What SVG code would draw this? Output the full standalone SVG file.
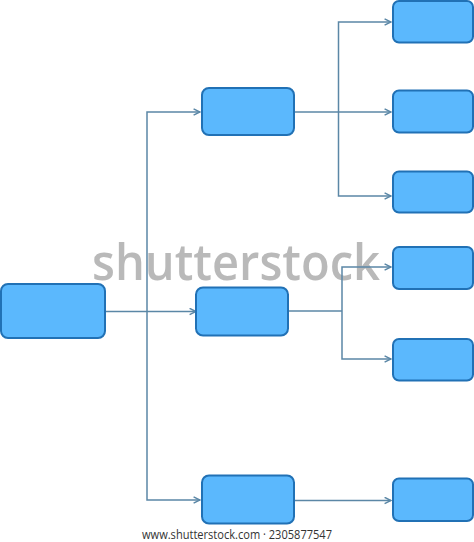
<svg xmlns="http://www.w3.org/2000/svg" width="474" height="542" viewBox="0 0 474 542">
<style>
.node rect{fill:#5bb8fd;stroke:#2171b5;stroke-width:2}
.conn path{fill:none;stroke:#5b87a6;stroke-width:1.5}
.wm{font-family:"Open Sans","Liberation Sans",sans-serif;font-weight:600;fill:#b2b2b2;opacity:0.9}
.foot{font-family:"Open Sans","Liberation Sans",sans-serif;font-size:12px;fill:#333}
</style>
<defs>
<marker id="ah" viewBox="0 0 10 10" refX="9" refY="5" markerWidth="8" markerHeight="8" markerUnits="userSpaceOnUse" orient="auto">
<path d="M1,1 L9,5 L1,9" fill="none" stroke="#5b87a6" stroke-width="1.8"/>
</marker>
</defs>
<rect width="474" height="542" fill="#ffffff"/>
<text class="wm" x="92" y="280" font-size="50" textLength="288" lengthAdjust="spacingAndGlyphs">shutterstock</text>
<g class="conn">
<path d="M105,311.5 H196" marker-end="url(#ah)"/>
<path d="M147,311.5 V112 H200" marker-end="url(#ah)"/>
<path d="M147,311.5 V500 H200" marker-end="url(#ah)"/>
<path d="M294,112 H391" marker-end="url(#ah)"/>
<path d="M338.5,112 V22 H391" marker-end="url(#ah)"/>
<path d="M338.5,112 V196 H391" marker-end="url(#ah)"/>
<path d="M288,311 H342"/>
<path d="M342,311 V267 H391" marker-end="url(#ah)"/>
<path d="M342,311 V359 H391" marker-end="url(#ah)"/>
<path d="M294,500.5 H391" marker-end="url(#ah)"/>
</g>
<g id="root" class="node"><rect x="1" y="284" width="104" height="54" rx="7"/></g>
<g id="n1" class="node"><rect x="202" y="88" width="92" height="47" rx="7"/></g>
<g id="n2" class="node"><rect x="196" y="287.5" width="92" height="48" rx="7"/></g>
<g id="n3" class="node"><rect x="202" y="475.5" width="92" height="48" rx="7"/></g>
<g id="l1" class="node"><rect x="393" y="1" width="80" height="41.5" rx="6"/></g>
<g id="l2" class="node"><rect x="393" y="90.5" width="80" height="42" rx="6"/></g>
<g id="l3" class="node"><rect x="393" y="171.5" width="80" height="41" rx="6"/></g>
<g id="l4" class="node"><rect x="393" y="247" width="80" height="42" rx="6"/></g>
<g id="l5" class="node"><rect x="393" y="339" width="80" height="41.5" rx="6"/></g>
<g id="l6" class="node"><rect x="393" y="478.5" width="80" height="42.5" rx="6"/></g>
<text class="foot" x="142" y="539" textLength="190" lengthAdjust="spacingAndGlyphs">www.shutterstock.com · 2305877547</text>
</svg>
